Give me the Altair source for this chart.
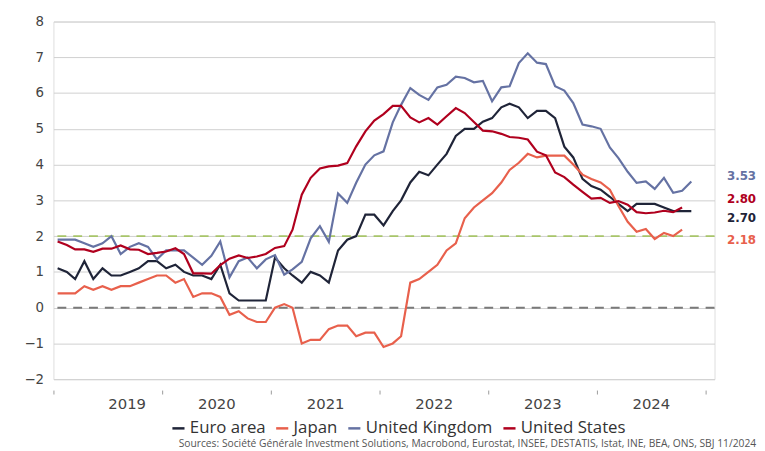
import altair as alt
import pandas as pd

euro = [1.1,1.0,0.8,1.3,0.8,1.1,0.9,0.9,1.0,1.1,1.3,1.3,
        1.1,1.2,1.0,0.9,0.9,0.8,1.2,0.4,0.2,0.2,0.2,0.2,
        1.4,1.1,0.9,0.7,1.0,0.9,0.7,1.6,1.9,2.0,2.6,2.6,
        2.3,2.7,3.0,3.5,3.8,3.7,4.0,4.3,4.8,5.0,5.0,5.2,
        5.3,5.6,5.7,5.6,5.3,5.5,5.5,5.3,4.5,4.2,3.6,3.4,
        3.3,3.1,2.9,2.7,2.9,2.9,2.9,2.8,2.7,2.7,2.7]
japan = [0.4,0.4,0.4,0.6,0.5,0.6,0.5,0.6,0.6,0.7,0.8,0.9,
         0.9,0.7,0.8,0.3,0.4,0.4,0.3,-0.2,-0.1,-0.3,-0.4,-0.4,
         0.0,0.1,0.0,-1.0,-0.9,-0.9,-0.6,-0.5,-0.5,-0.8,-0.7,-0.7,
         -1.1,-1.0,-0.8,0.7,0.8,1.0,1.2,1.6,1.8,2.5,2.8,3.0,
         3.2,3.5,3.85,4.05,4.3,4.2,4.25,4.25,4.25,4.0,3.72,3.6,
         3.5,3.3,2.84,2.4,2.12,2.2,1.92,2.09,2.0,2.18]
uk = [1.9,1.9,1.9,1.8,1.7,1.8,2.0,1.5,1.7,1.8,1.7,1.35,
      1.6,1.6,1.6,1.4,1.2,1.45,1.85,0.85,1.3,1.4,1.1,1.35,
      1.47,0.92,1.07,1.28,1.94,2.28,1.84,3.19,2.93,3.49,4.0,4.26,
      4.37,5.18,5.67,6.14,5.95,5.81,6.16,6.23,6.46,6.42,6.30,6.34,
      5.77,6.16,6.19,6.84,7.11,6.85,6.81,6.19,6.07,5.72,5.12,5.07,
      5.0,4.48,4.18,3.8,3.49,3.53,3.32,3.63,3.21,3.27,3.53]
us = [1.85,1.75,1.63,1.63,1.56,1.65,1.65,1.74,1.63,1.62,1.50,1.53,
      1.57,1.66,1.50,0.96,0.96,0.95,1.19,1.37,1.46,1.39,1.43,1.50,
      1.67,1.72,2.18,3.16,3.63,3.89,3.95,3.97,4.04,4.51,4.93,5.23,
      5.41,5.64,5.64,5.32,5.18,5.30,5.12,5.35,5.58,5.44,5.19,4.95,
      4.93,4.86,4.77,4.75,4.70,4.36,4.26,3.78,3.65,3.44,3.24,3.05,
      3.07,2.93,2.98,2.88,2.67,2.64,2.66,2.71,2.67,2.80]

series_names = ["Euro area", "Japan", "United Kingdom", "United States"]
series_values = [euro, japan, uk, us]
colors = ["#1f2438", "#e8604c", "#6572a3", "#b0001e"]
end_labels = ["2.70", "2.18", "3.53", "2.80"]
label_dy = [7, 10, -5, -9]
ref_levels = [0, 2]
ref_colors = ["#7a7a7a", "#a8c56a"]
y_ticks = [-2, -1, 0, 1, 2, 3, 4, 5, 6, 7, 8]
year_ticks = [2019, 2020, 2021, 2022, 2023, 2024, 2025]
source_text = ("Sources: Société Générale Investment Solutions, Macrobond, Eurostat, INSEE, "
               "DESTATIS, Istat, INE, BEA, ONS, SBJ 11/2024")

rows = []
for name, vals in zip(series_names, series_values):
    dates = pd.date_range("2019-01-01", periods=len(vals), freq="MS") + pd.Timedelta(days=14)
    for d, v in zip(dates, vals):
        rows.append({"date": d.strftime("%Y-%m-%d"), "value": v, "series": name})
df = pd.DataFrame(rows)

last_date = df["date"].max()
lab_rows = []
for name, vals, t in zip(series_names, series_values, end_labels):
    lab_rows.append({"date": last_date, "value": vals[-1], "series": name, "text": t})
lab_df = pd.DataFrame(lab_rows)

ref_df = pd.DataFrame({"y": ref_levels, "c": ref_colors})

FONT = "DejaVu Sans"
W, H = 669, 362

x_scale = alt.Scale(domain=["2019-01-01", "2025-02-01"])
y_scale = alt.Scale(domain=[-2, 8], nice=False)

x_axis = alt.Axis(title=None, grid=False, domain=False, ticks=True, tickSize=4,
                  tickColor="#9a9a9a", tickWidth=1, offset=11,
                  values=[f"{y}-01-01" for y in year_ticks],
                  labelExpr="year(datum.value) < 2025 ? timeFormat(datum.value, '%Y') : ''",
                  labelOffset=55, labelPadding=3, labelFontSize=15,
                  labelColor="#444444", labelFont=FONT)
y_axis = alt.Axis(title=None, values=y_ticks, grid=True,
                  gridColor="#cfcfcf", gridWidth=1, domain=False, ticks=False,
                  labelPadding=10, labelFontSize=13.5, labelColor="#444444",
                  labelFont=FONT, minExtent=41, labelOverlap=False)

lines = alt.Chart(df).mark_line(strokeWidth=2.2).encode(
    x=alt.X("date:T", scale=x_scale, axis=x_axis),
    y=alt.Y("value:Q", scale=y_scale, axis=y_axis),
    color=alt.Color("series:N",
                    scale=alt.Scale(domain=series_names, range=colors),
                    legend=alt.Legend(title=None, orient="none", direction="horizontal",
                                      legendX=118, legendY=403,
                                      symbolType="stroke", symbolStrokeWidth=2.5,
                                      symbolSize=150, labelFontSize=17,
                                      labelFont="Open Sans", labelColor="#333333",
                                      columnPadding=5, labelOffset=3,
                                      labelLimit=0)),
)

refs = alt.Chart(ref_df).mark_rule(strokeWidth=2, strokeDash=[9, 7]).encode(
    y=alt.Y("y:Q", scale=y_scale, axis=y_axis),
    color=alt.Color("c:N", scale=None),
)

layers = [refs, lines]
for name, col, dy in zip(series_names, colors, label_dy):
    layers.append(
        alt.Chart(lab_df).transform_filter(alt.datum.series == name)
        .mark_text(align="left", baseline="middle", dx=36, dy=dy, fontSize=12,
                   fontWeight="bold", font=FONT)
        .encode(x=alt.X("date:T", scale=x_scale, axis=x_axis),
                y=alt.Y("value:Q", scale=y_scale, axis=y_axis),
                text="text:N", color=alt.value(col))
    )

chart = alt.layer(*layers).properties(
    width=W, height=H,
    padding={"left": 5, "top": 4, "right": 0, "bottom": 0},
    title=alt.TitleParams(
        source_text,
        orient="bottom", anchor="end", frame="bounds", fontSize=10.4, fontWeight="normal",
        font="Open Sans", color="#555555", offset=3),
).configure_view(stroke=None).configure(background="white")

chart.save("out.html", embed_options={"renderer": "svg", "actions": False})
